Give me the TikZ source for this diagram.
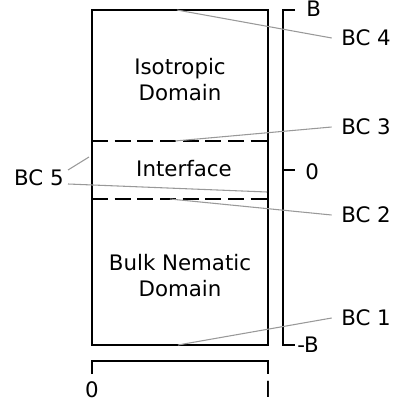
\documentclass[tikz,border=0pt]{standalone}
\usepackage{fontspec}
\setmainfont{DejaVu Sans}
\begin{document}
\begin{tikzpicture}[x=0.75pt,y=-0.75pt,
  every node/.style={font=\fontsize{16}{19.5}\selectfont,inner sep=0pt},
  region/.style={align=center},
  leader/.style={draw=gray!80,line width=0.8pt},
  axis/.style={line width=1.1pt}]
\useasboundingbox (0,0) rectangle (398,403);
% domain box and interface lines
\draw [line width=2pt] (92,10) rectangle (268,345);
\draw [line width=1.1pt,dash pattern=on 12pt off 5pt] (92,141) -- (268,141);
\draw [line width=1.1pt,dash pattern=on 12pt off 5pt] (92,199) -- (268,199);
\node [region] (iso) at (180,80) {Isotropic\\Domain};
\node [region] (int) at (184,169) {Interface};
\node [region] (bulk) at (180,276) {Bulk Nematic\\Domain};
% vertical axis
\draw [axis] (295,10) -- (283,10) -- (283,345) -- (295,345);
\draw [axis] (283,170) -- (295,170);
\node [anchor=west] (top) at (306,9) {B};
\node [anchor=west] (zero) at (305,172) {0};
\node [anchor=west] (bot) at (297,345) {-B};
% horizontal axis
\draw [axis] (92,374) -- (92,361) -- (268,361) -- (268,374);
\node [anchor=base] (left) at (92,397) {0};
\node [anchor=base] (right) at (268,397) {l};
% boundary conditions
\node [anchor=west] (bc4) at (341,38) {BC 4};
\node [anchor=west] (bc3) at (341,127) {BC 3};
\node [anchor=west] (bc2) at (341,215) {BC 2};
\node [anchor=west] (bc1) at (341,318) {BC 1};
\node [anchor=east] (bc5) at (64,178) {BC 5};
\coordinate (e4) at (177,10);
\coordinate (e3) at (175,141);
\coordinate (e2) at (170,199);
\coordinate (e1) at (178,345);
\coordinate (e5a) at (89,157);
\coordinate (e5b) at (267,192);
\draw [leader] (e4) -- ([xshift=-7pt]bc4.west);
\draw [leader] (e3) -- ([xshift=-7pt]bc3.west);
\draw [leader] (e2) -- ([xshift=-7pt]bc2.west);
\draw [leader] (e1) -- ([xshift=-7pt]bc1.west);
\draw [leader] (bc5.east) ++(4,-8) -- (e5a);
\draw [leader] (bc5.east) ++(4,6) -- (e5b);
\end{tikzpicture}
\end{document}
